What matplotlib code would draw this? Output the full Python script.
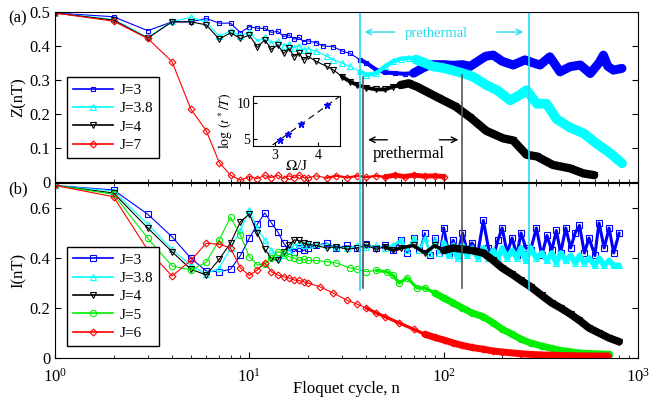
import numpy as np
import matplotlib
matplotlib.use('Agg')
import matplotlib.pyplot as plt

plt.rcParams['font.family'] = ['Liberation Serif', 'DejaVu Serif']
plt.rcParams['mathtext.fontset'] = 'stix'

# ---- data ----
n_early = list(range(1, 21))

# (a) Z(nT)
z3_early = [0.497, 0.486, 0.445, 0.471, 0.471, 0.481, 0.467, 0.467, 0.439, 0.457,
            0.452, 0.452, 0.44, 0.443, 0.428, 0.432, 0.42, 0.425, 0.413, 0.415]
z3_n = [22, 24, 27, 30, 33, 37, 40, 45, 50, 56, 63, 70, 78, 85, 100, 112, 125, 137, 150, 165,
        180, 200, 228, 262, 290, 313, 352, 397, 447, 505, 568, 630, 664, 700, 748, 827]
z3_tail = [0.41, 0.40, 0.398, 0.385, 0.378, 0.36, 0.35, 0.33, 0.322, 0.32, 0.318, 0.32, 0.335,
           0.345, 0.345, 0.343, 0.345, 0.34, 0.355, 0.37, 0.373, 0.355, 0.344, 0.359, 0.35,
           0.344, 0.368, 0.324, 0.339, 0.344, 0.319, 0.35, 0.373, 0.34, 0.329, 0.334]

z38_early = [0.497, 0.478, 0.425, 0.472, 0.484, 0.471, 0.428, 0.445, 0.43, 0.44,
             0.415, 0.425, 0.41, 0.415, 0.40, 0.405, 0.395, 0.40, 0.388, 0.392]
z38_n = [22, 25, 27, 30, 33, 37, 40, 45, 50, 55, 60, 66, 72, 80, 88, 100, 108, 125, 141, 166,
         188, 220, 245, 267, 302, 338, 381, 447, 525, 612, 718, 827]
z38_tail = [0.385, 0.37, 0.36, 0.35, 0.34, 0.325, 0.315, 0.32, 0.34, 0.355, 0.362, 0.365, 0.36,
            0.35, 0.34, 0.335, 0.33, 0.32, 0.31, 0.285, 0.27, 0.24, 0.255, 0.27, 0.23, 0.23,
            0.185, 0.16, 0.143, 0.113, 0.085, 0.055]

z4_early = [0.497, 0.476, 0.423, 0.471, 0.471, 0.462, 0.42, 0.439, 0.422, 0.432,
            0.396, 0.418, 0.39, 0.403, 0.378, 0.393, 0.369, 0.38, 0.359, 0.37]
z4_n = [22, 25, 27, 30, 33, 36, 40, 45, 50, 55, 60, 66, 73, 82, 95, 115, 137, 166, 203, 228,
        267, 302, 365, 447, 525, 595]
z4_tail = [0.355, 0.34, 0.33, 0.31, 0.295, 0.285, 0.277, 0.272, 0.272, 0.28, 0.285, 0.29, 0.28,
           0.265, 0.246, 0.222, 0.19, 0.15, 0.128, 0.122, 0.08, 0.075, 0.05, 0.04, 0.025, 0.02]

z7_early = [0.497, 0.473, 0.422, 0.354, 0.214, 0.151, 0.057, 0.02, 0.005, 0.016,
            0.01, 0.019, 0.013, 0.02, 0.01, 0.018, 0.012, 0.02, 0.013, 0.012]
z7_n = [22, 25, 28, 32, 36, 40, 45, 50, 56, 63, 70, 80, 90, 100]
z7_tail = [0.018, 0.012, 0.018, 0.013, 0.018, 0.014, 0.018, 0.015, 0.02, 0.016, 0.02, 0.017,
           0.018, 0.016]

# (b) I(nT)
i3_early = [0.69, 0.672, 0.575, 0.485, 0.399, 0.348, 0.345, 0.355, 0.41, 0.48,
            0.535, 0.58, 0.54, 0.505, 0.46, 0.43, 0.425, 0.44, 0.43, 0.44]
i3_n = [22, 25, 28, 32, 36, 40, 45, 50, 55, 60, 65, 70, 75, 80, 85, 90, 95,
        100, 106, 112, 118, 125, 132, 140, 150, 160, 170, 180, 190, 200, 212, 225, 238, 250,
        265, 280, 300, 320, 340, 360, 380, 400, 425, 450, 475, 500, 530, 560, 600, 630, 670,
        710, 750, 800]
i3_tail = [0.45, 0.46, 0.44, 0.45, 0.44, 0.455, 0.44, 0.45, 0.43, 0.47, 0.42, 0.48, 0.43,
           0.50, 0.41, 0.48, 0.42,
           0.52, 0.42, 0.47, 0.41, 0.50, 0.43, 0.46, 0.42, 0.55, 0.44, 0.40, 0.47, 0.52, 0.42,
           0.48, 0.41, 0.50, 0.44, 0.43, 0.52, 0.41, 0.49, 0.43, 0.51, 0.42, 0.52, 0.44, 0.50,
           0.53, 0.42, 0.48, 0.41, 0.54, 0.44, 0.52, 0.42, 0.50]

i38_early = [0.69, 0.668, 0.535, 0.435, 0.37, 0.335, 0.36, 0.44, 0.51, 0.59,
             0.52, 0.47, 0.43, 0.40, 0.41, 0.43, 0.45, 0.46, 0.45, 0.45]
i38_n = [22, 25, 28, 32, 36, 40, 45, 50, 55, 60, 65, 70, 75, 80, 85, 90, 95,
         100, 106, 112, 118, 125, 132, 140, 150, 160, 170, 180, 190, 200, 212, 225, 238, 250,
         265, 280, 300, 320, 340, 360, 380, 400, 425, 450, 475, 500, 530, 560, 600, 630, 670,
         710, 750, 800]
i38_tail = [0.455, 0.45, 0.445, 0.44, 0.45, 0.445, 0.45, 0.44, 0.45, 0.47, 0.43, 0.48, 0.43,
            0.48, 0.42, 0.47, 0.42,
            0.46, 0.41, 0.45, 0.40, 0.45, 0.41, 0.44, 0.40, 0.44, 0.40, 0.43, 0.40, 0.44, 0.40,
            0.43, 0.40, 0.44, 0.39, 0.44, 0.40, 0.42, 0.39, 0.42, 0.38, 0.42, 0.39, 0.41, 0.38,
            0.41, 0.38, 0.40, 0.37, 0.40, 0.37, 0.39, 0.37, 0.37]

i4_early = [0.69, 0.66, 0.52, 0.425, 0.355, 0.332, 0.395, 0.459, 0.545, 0.576,
            0.499, 0.435, 0.399, 0.39, 0.425, 0.452, 0.472, 0.47, 0.46, 0.455]
i4_n = [22, 25, 28, 32, 36, 40, 45, 50, 55, 60, 70, 80, 90, 100, 112, 125, 140, 160, 180, 200,
        225, 250, 280, 320, 360, 400, 450, 500, 560, 630, 710, 800]
i4_tail = [0.45, 0.44, 0.445, 0.435, 0.44, 0.45, 0.435, 0.445, 0.43, 0.44, 0.45, 0.42, 0.45,
           0.43, 0.44, 0.435, 0.43, 0.42, 0.39, 0.36, 0.335, 0.31, 0.285, 0.25, 0.22, 0.20,
           0.175, 0.15, 0.12, 0.10, 0.08, 0.065]

i5_early = [0.69, 0.655, 0.479, 0.368, 0.352, 0.383, 0.472, 0.563, 0.49, 0.405,
            0.372, 0.376, 0.399, 0.425, 0.419, 0.405, 0.40, 0.39, 0.395, 0.39]
i5_n = [22, 25, 28, 33, 36, 40, 45, 51, 55, 59, 65, 73, 80, 90, 100, 112, 125, 140, 160, 180,
        200, 225, 250, 280, 320, 360, 400, 450, 500, 560, 630, 710]
i5_tail = [0.39, 0.385, 0.38, 0.36, 0.355, 0.345, 0.35, 0.345, 0.33, 0.30, 0.32, 0.28, 0.28,
           0.26, 0.24, 0.22, 0.20, 0.18, 0.165, 0.14, 0.115, 0.095, 0.075, 0.06, 0.048, 0.038,
           0.03, 0.025, 0.02, 0.018, 0.016, 0.015]

i6_early = [0.69, 0.645, 0.432, 0.328, 0.39, 0.459, 0.455, 0.44, 0.36, 0.33,
            0.352, 0.381, 0.345, 0.332, 0.325, 0.32, 0.312, 0.31, 0.305, 0.30]
i6_n = [23, 27, 32, 36, 40, 45, 50, 59, 70, 80, 90, 100, 112, 125, 140, 160, 180, 200, 250,
        300, 360, 450, 560, 700]
i6_tail = [0.285, 0.26, 0.23, 0.215, 0.2, 0.18, 0.165, 0.14, 0.115, 0.095, 0.082, 0.072, 0.06,
           0.05, 0.042, 0.035, 0.028, 0.024, 0.017, 0.013, 0.011, 0.009, 0.008, 0.008]

# inset: log(t*/T) vs Omega/J
inset_x = [3.12, 3.31, 3.6, 4.2]
inset_y = [4.9, 5.7, 7.1, 9.7]
fit_x = [2.95, 4.5]
fit_y = [4.15, 11.0]


def draw(ax, early, n_tail, v_tail, color, marker, label, ms, n_band, band_lw):
    n = np.array(n_early + n_tail)
    v = np.array(early + v_tail)
    # dense tail: the cycles pile up into a thick band
    m1 = n >= 0.5 * n_band
    ax.plot(n[m1], v[m1], color=color, lw=band_lw * 0.45, solid_joinstyle='round',
            solid_capstyle='round')
    m2 = n >= n_band
    ax.plot(n[m2], v[m2], color=color, lw=band_lw, solid_joinstyle='round',
            solid_capstyle='round')
    ax.plot(n, v, color=color, lw=0.8, marker=marker, mfc='none', mec=color,
            ms=ms, mew=0.8, label=label)


fig = plt.figure(figsize=(6.51, 3.99), dpi=100)
ax1 = fig.add_axes([0.0845, 0.544, 0.8955, 0.426])
ax2 = fig.add_axes([0.0845, 0.1028, 0.8955, 0.4386])

draw(ax1, z3_early, z3_n, z3_tail, 'blue', 's', 'J=3', 3.5, 70, 6.5)
draw(ax1, z38_early, z38_n, z38_tail, 'cyan', '^', 'J=3.8', 4.5, 70, 7)
draw(ax1, z4_early, z4_n, z4_tail, 'black', 'v', 'J=4', 4.5, 60, 6)
draw(ax1, z7_early, z7_n, z7_tail, 'red', 'D', 'J=7', 3.5, 50, 3.5)

draw(ax2, i3_early, i3_n, i3_tail, 'blue', 's', 'J=3', 4, 100, 2.2)
draw(ax2, i38_early, i38_n, i38_tail, 'cyan', '^', 'J=3.8', 4.5, 100, 4)
draw(ax2, i4_early, i4_n, i4_tail, 'black', 'v', 'J=4', 4.5, 100, 5.5)
draw(ax2, i5_early, i5_n, i5_tail, '#00ee00', 'o', 'J=5', 4.5, 90, 5)
draw(ax2, i6_early, i6_n, i6_tail, 'red', 'D', 'J=6', 3.5, 80, 5)

for ax in (ax1, ax2):
    ax.set_xscale('log')
    ax.set_xlim(1, 1000)
    ax.tick_params(which='both', direction='in', right=True, labelsize=12)
    ax.tick_params(which='major', length=4)
    ax.tick_params(which='minor', length=2)

ax1.tick_params(labelbottom=False)
ax1.set_ylim(0, 0.5)
ax1.set_yticks([0, 0.1, 0.2, 0.3, 0.4, 0.5])
ax1.set_yticklabels(['0', '0.1', '0.2', '0.3', '0.4', '0.5'])
ax1.set_ylabel('Z(nT)', fontsize=12, labelpad=2)

ax2.tick_params(which='both', top=True)
ax2.tick_params(axis='x', pad=7)
ax2.set_ylim(0, 0.7)
ax2.set_yticks([0, 0.2, 0.4, 0.6])
ax2.set_yticklabels(['0', '0.2', '0.4', '0.6'])
ax2.set_ylabel('I(nT)', fontsize=12, labelpad=2)
ax2.set_xlabel('Floquet cycle, n', fontsize=12, labelpad=-3)

leg_kw = dict(loc='lower left', fontsize=11, frameon=True, fancybox=False,
              edgecolor='black', framealpha=1, handlelength=2.6, labelspacing=0.3,
              borderpad=0.4, handletextpad=0.4)
l1 = ax1.legend(bbox_to_anchor=(0.008, 0.095), **leg_kw)
l2 = ax2.legend(bbox_to_anchor=(0.008, 0.025), **leg_kw)
for lg in (l1, l2):
    lg.get_frame().set_linewidth(1.0)
    for h in lg.legend_handles:
        h.set_linewidth(1.2)

# vertical marker lines
ax1.axvline(37, ymin=0, ymax=1, color='#22ddee', lw=1.2)
ax2.axvline(37, ymin=0.39, ymax=1, color='#22ddee', lw=1.2)
ax1.axvline(275, ymin=0, ymax=1, color='#22ddee', lw=1.2)
ax2.axvline(275, ymin=0.39, ymax=1, color='#22ddee', lw=1.2)
ax1.axvline(38.5, ymin=0, ymax=0.62, color='#555555', lw=1.2)
ax2.axvline(38.5, ymin=0.40, ymax=1, color='#555555', lw=1.2)
ax1.axvline(124, ymin=0, ymax=0.63, color='#555555', lw=1.2)
ax2.axvline(124, ymin=0.40, ymax=1, color='#555555', lw=1.2)

# annotations
ax1.text(92, 0.438, 'prethermal', color='#22ddee', fontsize=10.5, ha='center', va='center')
ax1.annotate('', xy=(38, 0.441), xytext=(58, 0.441),
             arrowprops=dict(arrowstyle='->', color='#22ddee', lw=1.0))
ax1.annotate('', xy=(265, 0.441), xytext=(182, 0.441),
             arrowprops=dict(arrowstyle='->', color='#22ddee', lw=1.0))
ax1.text(66, 0.082, 'prethermal', color='black', fontsize=12, ha='center', va='center')
ax1.annotate('', xy=(39.5, 0.124), xytext=(53, 0.124),
             arrowprops=dict(arrowstyle='->', color='black', lw=1.0))
ax1.annotate('', xy=(123, 0.124), xytext=(92, 0.124),
             arrowprops=dict(arrowstyle='->', color='black', lw=1.0))

# inset
axi = fig.add_axes([0.3886, 0.634, 0.1336, 0.125])
axi.plot(fit_x, fit_y, color='black', lw=0.8, ls=(0, (6, 4)))
axi.plot(inset_x, inset_y, ls='none', marker='*', color='blue', ms=5)
axi.set_xlim(2.5, 4.5)
axi.set_ylim(4, 11)
axi.set_xticks([3, 4])
axi.set_yticks([5, 10])
axi.tick_params(direction='in', labelsize=10, length=3, pad=2)
axi.set_xlabel(r'$\Omega$/J', fontsize=11, labelpad=-2)
axi.set_ylabel(r'$\log\,(t^*/T)$', fontsize=10, labelpad=1)

fig.text(0.012, 0.945, '(a)', fontsize=12)
fig.text(0.012, 0.515, '(b)', fontsize=12)

fig.savefig('out.png', dpi=100)
